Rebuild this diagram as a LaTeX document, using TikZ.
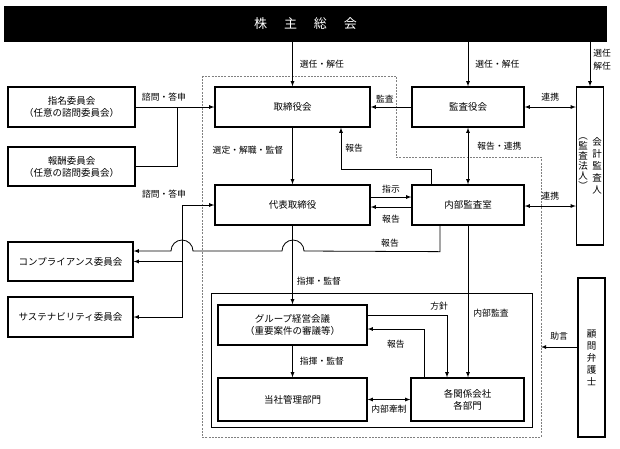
\documentclass[tikz,border=0pt]{standalone}
\usepackage{fontspec}
\setmainfont{Noto Sans CJK JP}
\tikzset{
  box/.style={draw, line width=1.3pt, inner sep=0pt, align=center, font=\fontsize{9.5}{12}\selectfont},
  lbl/.style={inner sep=1pt, align=center, font=\fontsize{8.8}{12.5}\selectfont},
  conn/.style={line width=0.8pt},
  arr/.style={conn,-latex},
  darr/.style={conn,latex-latex},
}
\begin{document}
\begin{tikzpicture}[x=1pt,y=1pt]
\useasboundingbox (0,0) rectangle (620,-448);
%\draw [help lines, color=lightgray] (0,0) grid [step=10] (620,-448);
\draw [gray, line width=0.7pt, dash pattern=on 2pt off 1.2pt] (202,-76) -- (396,-76) -- (396,-157) -- (541,-157) -- (541,-437) -- (202,-437) -- cycle;
\draw [line width=1pt] (211,-293) rectangle (532,-427);

\node [box, fill=black, text=white, minimum width=601, minimum height=34, font=\fontsize{13}{15}\selectfont] (soukai) at (305.5,-24) {株\hspace{1.3em}主\hspace{1.3em}総\hspace{1.3em}会};
\node [box, minimum width=155, minimum height=40] (tori) at (292.5,-107) {取締役会};
\node [box, minimum width=112, minimum height=40] (kansa) at (468,-107) {監査役会};
\node [box, minimum width=27, minimum height=158] (kaikei) at (590,-166) {};
\node [lbl, font=\fontsize{9.5}{12}\selectfont, inner sep=0] (kaikeiA) at (597,-166) {会\\計\\監\\査\\人};
\node [lbl, font=\fontsize{9.5}{10}\selectfont, inner sep=0] (kaikeiB) at (583,-164) {︵\\監\\査\\法\\人\\︶};
\node [box, minimum width=127, minimum height=40] (shimei) at (71.5,-107) {指名委員会\\（任意の諮問委員会）};
\node [box, minimum width=127, minimum height=39] (hoshu) at (71.5,-166.5) {報酬委員会\\（任意の諮問委員会）};
\node [box, minimum width=155, minimum height=40] (daihyo) at (292.5,-205) {代表取締役};
\node [box, minimum width=112, minimum height=40] (naibu) at (468,-205) {内部監査室};
\node [box, minimum width=125, minimum height=39] (compl) at (70.5,-261.5) {コンプライアンス委員会};
\node [box, minimum width=125, minimum height=40] (sustain) at (70.5,-317) {サステナビリティ委員会};
\node [box, minimum width=149, minimum height=40] (group) at (292.5,-325) {グループ経営会議\\（重要案件の審議等）};
\node [box, minimum width=149, minimum height=43] (tosha) at (292.5,-399.5) {当社管理部門};
\node [box, minimum width=113, minimum height=43] (kaku) at (467.5,-399.5) {各関係会社\\各部門};
\node [box, minimum width=27, minimum height=159] (komon) at (591.5,-357.5) {顧\\問\\弁\\護\\士};

\draw [arr] (soukai.south -| tori.north) -- (tori.north) node [lbl, pos=0.5, right=6pt] {選任・解任};
\draw [arr] (soukai.south -| kansa.north) -- (kansa.north) node [lbl, pos=0.5, right=6pt] {選任・解任};
\draw [arr] (soukai.south -| kaikei.north) -- (kaikei.north) node [lbl, pos=0.4, right=2pt] {選任\\解任};

\coordinate (jA) at (177,-107);
\draw [arr] (shimei.east) -- (tori.west) node [lbl, pos=0.36, above=4pt] {諮問・答申};
\draw [conn] (hoshu.east) -| (jA);

\coordinate (jB) at (182,-205);
\draw [arr] (jB) -- (daihyo.west);
\draw [arr] (jB) |- (sustain.east);
\draw [arr] (compl.east -| jB) -- (compl.east);
\node [lbl] (lblB) at (164,-194) {諮問・答申};

\draw [arr] (tori) -- (daihyo) node [lbl, pos=0.4, left=8pt] {選定・解職・監督};
\draw [arr] (kansa.west) -- (tori.east) node [lbl, pos=0.65, above=3pt] {監査};
\draw [darr] (kansa.east) -- (kansa.east -| kaikei.west) node [lbl, midway, above=4pt] {連携};
\draw [darr] (kansa.south) -- (naibu.north) node [lbl, pos=0.33, right=8pt] {報告・連携};
\draw [arr] ([xshift=-37pt]naibu.north) |- ++(0,15) -| ([xshift=48.5pt]tori.south) node [lbl, pos=0.75, right=3pt] {報告};

\draw [arr] ([yshift=8pt]daihyo.east) -- ([yshift=8pt]naibu.west) node [lbl, midway, above=2pt] {指示};
\draw [arr] ([yshift=-2pt]naibu.west) -- ([yshift=-2pt]daihyo.east) node [lbl, midway, below=7pt] {報告};
\draw [darr] ([yshift=-1pt]naibu.east) -- ([yshift=-1pt]naibu.east -| kaikei.west) node [lbl, midway, above=4pt] {連携};
\draw [arr] ([xshift=-28pt]naibu.south) -- ++(0,-26) -- (304,-251) arc [start angle=0, end angle=180, radius=11pt] -- (193,-251) arc [start angle=0, end angle=180, radius=11pt] -- ([yshift=10.5pt]compl.east);
\node [lbl] (lblR) at (390,-243) {報告};

\draw [arr] (daihyo) -- (group) node [lbl, pos=0.7, right=3pt] {指揮・監督};
\draw [arr] (naibu.south) -- (naibu.south |- kaku.north) node [lbl, pos=0.58, right=4pt] {内部監査};
\draw [arr] (group) -- (tosha) node [lbl, midway, right=6pt] {指揮・監督};
\draw [arr] ([yshift=10pt]group.east) -| ([xshift=-20.5pt]kaku.north) node [lbl, pos=0.45, above=3pt] {方針};
\draw [arr] ([xshift=-43.5pt]kaku.north) |- ([yshift=-4pt]group.east) node [lbl, pos=0.75, below=10pt] {報告};
\draw [darr] (tosha.east) -- (kaku.west) node [lbl, midway, below=4pt] {内部牽制};

\coordinate (dashR) at (541,-347);
\draw [arr] (komon.west |- dashR) -- (dashR) node [lbl, midway, above=5pt] {助言};
\end{tikzpicture}
\end{document}
